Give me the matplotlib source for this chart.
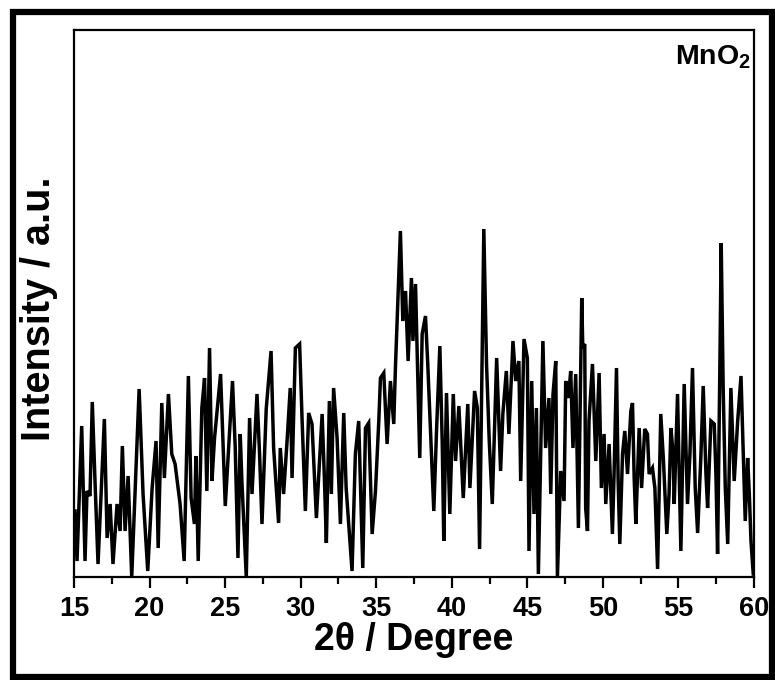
import matplotlib
matplotlib.use("Agg")
import matplotlib.pyplot as plt
from matplotlib.patches import Rectangle
from matplotlib.ticker import MultipleLocator

plt.rcParams['font.family'] = ['Liberation Sans', 'DejaVu Sans']
plt.rcParams['font.weight'] = 'bold'
plt.rcParams['mathtext.fontset'] = 'custom'
plt.rcParams['mathtext.rm'] = 'Liberation Sans:bold'
plt.rcParams['mathtext.bf'] = 'Liberation Sans:bold'

two_theta = [
    15.07, 15.20, 15.51, 15.73, 15.86, 16.06, 16.21, 16.39, 16.59, 17.01,
    17.19, 17.39, 17.58, 17.85, 18.05, 18.20, 18.38, 18.58, 18.82, 19.31,
    19.57, 19.88, 20.17, 20.43, 20.57, 20.81, 20.98, 21.25, 21.47, 21.69,
    22.02, 22.29, 22.57, 22.75, 22.97, 23.07, 23.22, 23.46, 23.64, 23.79,
    23.97, 24.13, 24.30, 24.70, 25.01, 25.49, 25.67, 25.85, 26.00, 26.11,
    26.40, 26.62, 26.78, 27.11, 27.28, 27.44, 27.72, 28.04, 28.21, 28.54,
    28.65, 28.87, 29.10, 29.31, 29.43, 29.65, 29.93, 30.09, 30.31, 30.53,
    30.75, 31.04, 31.42, 31.57, 31.70, 31.90, 32.03, 32.18, 32.41, 32.63,
    32.85, 33.01, 33.40, 33.62, 33.84, 34.11, 34.29, 34.50, 34.73, 34.95,
    35.17, 35.28, 35.50, 35.72, 35.94, 36.16, 36.27, 36.39, 36.60, 36.76,
    36.94, 37.11, 37.33, 37.43, 37.60, 37.71, 37.88, 38.04, 38.26, 38.41,
    38.59, 38.81, 38.99, 39.21, 39.37, 39.47, 39.65, 39.87, 40.10, 40.25,
    40.47, 40.76, 41.06, 41.20, 41.51, 41.69, 41.84, 42.12, 42.30, 42.48,
    42.68, 42.97, 43.23, 43.38, 43.61, 43.78, 44.05, 44.23, 44.44, 44.56,
    44.78, 45.00, 45.11, 45.29, 45.44, 45.60, 45.73, 46.03, 46.21, 46.43,
    46.55, 46.70, 46.88, 46.99, 47.21, 47.43, 47.54, 47.72, 47.87, 48.02,
    48.20, 48.38, 48.60, 48.67, 48.80, 48.86, 48.98, 49.08, 49.31, 49.53,
    49.75, 49.90, 50.08, 50.19, 50.41, 50.63, 50.74, 50.90, 51.01, 51.12,
    51.30, 51.45, 51.63, 51.85, 51.96, 52.07, 52.18, 52.40, 52.56, 52.77,
    52.95, 53.06, 53.28, 53.44, 53.62, 53.83, 54.01, 54.23, 54.38, 54.50,
    54.65, 54.72, 54.94, 55.16, 55.38, 55.60, 55.76, 55.93, 56.11, 56.27,
    56.48, 56.64, 56.82, 56.93, 57.15, 57.37, 57.48, 57.59, 57.74, 57.83,
    57.96, 58.10, 58.26, 58.47, 58.69, 58.92, 59.14, 59.29, 59.42, 59.58,
    59.69, 59.80, 59.95,
]

intensity = [
    66, 16, 151, 16, 86, 81, 175, 96, 13, 158,
    39, 73, 13, 73, 46, 131, 46, 101, 0, 188,
    83, 6, 89, 136, 29, 174, 99, 183, 123, 113,
    73, 16, 201, 79, 53, 121, 16, 169, 199, 86,
    229, 96, 139, 203, 71, 196, 129, 19, 143, 96,
    0, 159, 83, 183, 123, 53, 168, 226, 129, 54,
    129, 83, 136, 189, 99, 229, 233, 159, 66, 164,
    153, 59, 163, 99, 34, 176, 83, 189, 139, 53,
    164, 89, 6, 123, 156, 9, 149, 154, 43, 86,
    156, 199, 204, 133, 196, 153, 209, 259, 346, 256,
    286, 216, 299, 236, 293, 223, 119, 243, 261, 213,
    146, 66, 146, 231, 133, 36, 184, 63, 183, 116,
    171, 79, 173, 89, 186, 169, 28, 348, 213, 136,
    73, 219, 106, 163, 206, 143, 236, 196, 216, 96,
    238, 219, 26, 196, 63, 169, 3, 236, 129, 179,
    83, 183, 216, 0, 106, 76, 196, 179, 206, 129,
    203, 49, 279, 229, 233, 69, 46, 156, 213, 116,
    204, 89, 143, 73, 133, 43, 103, 209, 96, 33,
    123, 146, 103, 166, 174, 99, 53, 149, 89, 148,
    143, 103, 109, 89, 8, 163, 116, 43, 83, 149,
    123, 73, 183, 26, 193, 73, 123, 209, 89, 44,
    119, 191, 103, 69, 156, 153, 103, 23, 209, 334,
    189, 89, 33, 189, 96, 156, 201, 123, 56, 119,
    83, 36, 3,
]

x_ticks = [15, 20, 25, 30, 35, 40, 45, 50, 55, 60]
x_label = "2θ / Degree"
y_label = "Intensity / a.u."
sample_label = "MnO$_\\mathbf{2}$"

W, H = 775, 680
fig = plt.figure(figsize=(W / 100, H / 100), dpi=100)
ax = fig.add_axes([74 / W, 1 - 577 / H, (754 - 74) / W, (577 - 30) / H])

ax.plot(two_theta, intensity, color='black', lw=2.5, solid_joinstyle='miter')
ax.set_xlim(15, 60)
ax.set_ylim(0, 547)

ax.set_xticks(x_ticks)
ax.set_xticklabels([str(t) for t in x_ticks])
ax.xaxis.set_minor_locator(MultipleLocator(2.5))
ax.tick_params(axis='x', which='major', direction='out', length=8, width=1.6,
               labelsize=19.5, pad=6)
ax.tick_params(axis='x', which='minor', direction='out', length=5, width=1.6)
ax.set_yticks([])
for s in ax.spines.values():
    s.set_linewidth(1.6)

ax.set_xlabel(x_label, fontsize=27, fontweight='bold', labelpad=0)
ax.set_ylabel(y_label, fontsize=28.5, fontweight='bold')
ax.yaxis.set_label_coords(-0.024, 0.49)

ax.text(0.996, 0.975, sample_label, transform=ax.transAxes, ha='right', va='top',
        fontsize=20.5, fontweight='bold')

rect = Rectangle((13 / W, 1 - 677 / H), (772 - 13) / W, (677 - 12) / H,
                 transform=fig.transFigure, fill=False, edgecolor='black',
                 linewidth=4.5, zorder=10)
fig.patches.append(rect)

fig.savefig("out.png", dpi=100)
